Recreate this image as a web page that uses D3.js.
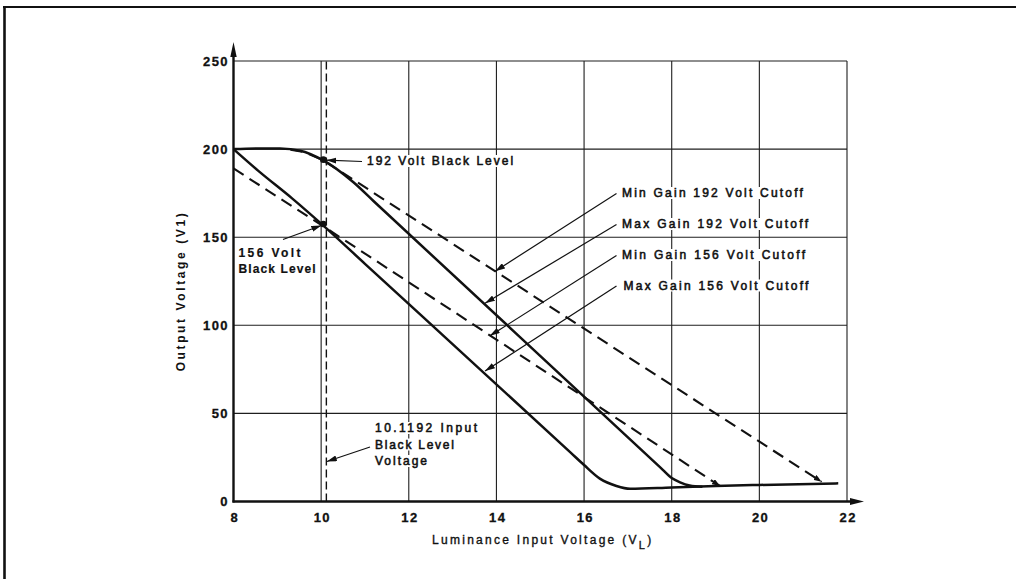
<!DOCTYPE html>
<html>
<head>
<meta charset="utf-8">
<script src="https://cdn.jsdelivr.net/npm/d3@7"></script>
<style>
  html, body { margin: 0; padding: 0; background: #fff; }
  svg { display: block; }
  text { font-family: "Liberation Sans", Arial, Helvetica, sans-serif; fill: #111; }
</style>
</head>
<body>
<svg id="chart" width="1016" height="579"></svg>
<script>
// ---- data (x: luminance input voltage V_L, y: output voltage V1) ----
const xTicks = [8, 10, 12, 14, 16, 18, 20, 22];
const yTicks = [0, 50, 100, 150, 200, 250];

// Max Gain 156 Volt Cutoff (solid), with the shared low-level tail
const maxGain156 = [
  [8, 200], [8.56, 187.8], [9.33, 172.2], [10.0, 157.7], [11.0, 134.9],
  [15.7, 27.6], [16.0, 20.7], [16.36, 13.0], [16.74, 8.8], [17.05, 7.2],
  [18.0, 8.0], [19.0, 8.8], [20.0, 9.4], [21.8, 10.3]
];
// Max Gain 192 Volt Cutoff (solid)
const maxGain192 = [
  [8, 200], [8.6, 200.4], [9.06, 200.3], [9.52, 199.1], [10.05, 193.6],
  [10.73, 181.3], [11.2, 170.4], [17.75, 19.1], [18.0, 13.3], [18.19, 10.9],
  [18.41, 9.1], [18.7, 8.4]
];
// Min Gain 156 Volt Cutoff (dashed)
const minGain156 = [[8, 189], [10.0, 157], [19.1, 8.8]];
// Min Gain 192 Volt Cutoff (dashed)
const minGain192 = [[9.3, 199.6], [9.6, 198.4], [10.05, 193.6], [21.42, 11.2]];

const blackLevelInput = 10.1192;
const blackLevels = [[10.05, 194], [10.05, 157.5]];

const cutoffLabels = [
  "Min Gain 192 Volt Cutoff",
  "Max Gain 192 Volt Cutoff",
  "Min Gain 156 Volt Cutoff",
  "Max Gain 156 Volt Cutoff"
];
const cutoffTips = [[13.97, 130.7], [13.74, 112.5], [13.85, 94], [13.74, 74]];

// ---- layout ----
const svg = d3.select("#chart");
const x = d3.scaleLinear().domain([8, 22]).range([233.5, 847]);
const y = d3.scaleLinear().domain([0, 250]).range([501.5, 61]);

const defs = svg.append("defs");
defs.append("marker")
  .attr("id", "arrow").attr("markerUnits", "userSpaceOnUse")
  .attr("viewBox", "0 0 10 6").attr("refX", 10).attr("refY", 3)
  .attr("markerWidth", 10).attr("markerHeight", 6).attr("orient", "auto")
  .append("path").attr("d", "M0,0 L10,3 L0,6 Z").attr("fill", "#111");
defs.append("marker")
  .attr("id", "tick-end").attr("markerUnits", "userSpaceOnUse")
  .attr("viewBox", "0 0 8 6").attr("refX", 8).attr("refY", 3)
  .attr("markerWidth", 8).attr("markerHeight", 6).attr("orient", "auto")
  .append("path").attr("d", "M0,0 L8,3 L0,6 Z").attr("fill", "#111");

// page frame
svg.append("path").attr("d", "M3,7 H1016").attr("stroke", "#111").attr("stroke-width", 2.2).attr("fill", "none");
svg.append("path").attr("d", "M4.5,6 V579").attr("stroke", "#111").attr("stroke-width", 2.6).attr("fill", "none");

// grid
const grid = svg.append("g").attr("stroke", "#1e1e1e").attr("stroke-width", 1.1).attr("fill", "none");
grid.selectAll("line.v").data(xTicks.filter(d => d > 8)).join("line")
  .attr("x1", d => x(d)).attr("x2", d => x(d))
  .attr("y1", y(0)).attr("y2", y(250));
grid.selectAll("line.h").data(yTicks.filter(d => d > 0)).join("line")
  .attr("x1", x(8)).attr("x2", x(22))
  .attr("y1", d => y(d)).attr("y2", d => y(d));

// input black level marker line
svg.append("line")
  .attr("x1", x(blackLevelInput)).attr("x2", x(blackLevelInput))
  .attr("y1", y(0)).attr("y2", y(250))
  .attr("stroke", "#111").attr("stroke-width", 1.4).attr("stroke-dasharray", "8,4");

// label backgrounds layer (interrupts grid under text)
const bgLayer = svg.append("g");

// axes lines with arrowheads
svg.append("path").attr("d", `M${x(8)},${y(0) + 1} V50`).attr("stroke", "#111").attr("stroke-width", 2.4).attr("fill", "none");
svg.append("path").attr("d", `M${x(8)},42 L${x(8) - 3.2},57 L${x(8) + 3.2},57 Z`).attr("fill", "#111");
svg.append("path").attr("d", `M${x(8) - 1},${y(0)} H853`).attr("stroke", "#111").attr("stroke-width", 2.4).attr("fill", "none");
svg.append("path").attr("d", `M864,${y(0)} L850,${y(0) - 3.4} L850,${y(0) + 3.4} Z`).attr("fill", "#111");

// tick labels via axes
const yAxis = svg.append("g").attr("transform", `translate(${x(8)},0)`)
  .call(d3.axisLeft(y).tickValues(yTicks).tickSize(0).tickPadding(6).tickFormat(d3.format("d")));
const xAxis = svg.append("g").attr("transform", `translate(0,${y(0)})`)
  .call(d3.axisBottom(x).tickValues(xTicks).tickSize(0).tickPadding(11).tickFormat(d3.format("d")));
[yAxis, xAxis].forEach(a => {
  a.select(".domain").remove();
  a.selectAll("text").attr("font-family", "Liberation Sans, Arial, sans-serif")
    .attr("font-size", 13).attr("font-weight", "bold").attr("fill", "#111")
    .attr("stroke", "#111").attr("stroke-width", 0.3);
});
yAxis.selectAll("text").attr("letter-spacing", 1.4).attr("dx", 1.4);
xAxis.selectAll("text").attr("letter-spacing", 1.4).attr("dx", 0.7);

// curves
const line = d3.line().x(d => x(d[0])).y(d => y(d[1]));
const smooth = d3.line().x(d => x(d[0])).y(d => y(d[1])).curve(d3.curveMonotoneX);
const curves = svg.append("g").attr("fill", "none").attr("stroke", "#111").attr("stroke-linejoin", "round");
curves.append("path").attr("d", smooth(maxGain156)).attr("stroke-width", 2.5);
curves.append("path").attr("d", smooth(maxGain192)).attr("stroke-width", 2.5);
curves.append("path").attr("d", line(minGain156)).attr("stroke-width", 2.1)
  .attr("stroke-dasharray", "12,7").attr("marker-end", "url(#tick-end)");
curves.append("path").attr("d", line(minGain192)).attr("stroke-width", 2.1)
  .attr("stroke-dasharray", "12,7").attr("marker-end", "url(#tick-end)");

// black level points
svg.selectAll("circle.bl").data(blackLevels).join("circle")
  .attr("cx", d => x(d[0])).attr("cy", d => y(d[1])).attr("r", 3.3).attr("fill", "#111");

// text helpers: spread letters so a line spans a given width
function fit(sel, w) {
  sel.each(function () {
    const t = d3.select(this).attr("letter-spacing", 0);
    const n = this.getNumberOfChars();
    const len = this.getComputedTextLength();
    t.attr("letter-spacing", ((w - len) / Math.max(1, n - 1)).toFixed(2));
  });
}
function backdrop(sel, pad) {
  sel.each(function () {
    const b = this.getBBox();
    bgLayer.append("rect").attr("x", b.x - pad).attr("y", b.y + 1)
      .attr("width", b.width + 2 * pad).attr("height", b.height - 2).attr("fill", "#fff");
  });
}
const ann = svg.append("g")
  .attr("font-size", 12).attr("stroke", "#111").attr("stroke-width", 0.55);

function label(str, tx, ty, w, bold) {
  const t = ann.append("text").attr("x", tx).attr("y", ty).text(str);
  if (bold) t.attr("font-weight", "bold").attr("stroke-width", 0.2);
  fit(t, w);
  backdrop(t, 3);
  return t;
}

// cutoff annotations
const labelRows = [197, 228, 259, 289.5];
const labelWidths = [181, 186, 183, 185];
cutoffLabels.forEach((s, i) => {
  label(s, i === 3 ? 623.5 : 622, labelRows[i], labelWidths[i]);
});
svg.append("g").selectAll("line").data(cutoffTips).join("line")
  .attr("x1", 616.5).attr("y1", (d, i) => labelRows[i] - 3.5)
  .attr("x2", d => x(d[0])).attr("y2", d => y(d[1]))
  .attr("stroke", "#111").attr("stroke-width", 1.2).attr("marker-end", "url(#arrow)");

// black level annotations
label("192 Volt Black Level", 367, 165, 146);
svg.append("line").attr("x1", 362).attr("y1", 161.5).attr("x2", x(blackLevels[0][0]) + 3).attr("y2", y(blackLevels[0][1]) + 0.5)
  .attr("stroke", "#111").attr("stroke-width", 1.2).attr("marker-end", "url(#arrow)");

label("156 Volt", 238.5, 256.5, 62, true);
label("Black Level", 238.5, 273, 77, true);
svg.append("line").attr("x1", 283).attr("y1", 239.5).attr("x2", x(blackLevels[1][0]) - 2).attr("y2", y(blackLevels[1][1]) + 1.5)
  .attr("stroke", "#111").attr("stroke-width", 1.2).attr("marker-end", "url(#arrow)");

label("10.1192 Input", 375, 432, 102);
label("Black Level", 375, 448.5, 79);
label("Voltage", 375, 465, 52);
svg.append("line").attr("x1", 370).attr("y1", 447).attr("x2", x(blackLevelInput) + 0.5).attr("y2", 461.5)
  .attr("stroke", "#111").attr("stroke-width", 1.2).attr("marker-end", "url(#arrow)");

// axis titles
const yTitle = svg.append("text")
  .attr("transform", "translate(184.5,291) rotate(-90)")
  .attr("text-anchor", "middle").attr("font-size", 12).attr("font-weight", "bold")
  .text("Output Voltage (V1)");
fit(yTitle, 158);

const xTitle = svg.append("text").attr("x", 432).attr("y", 544)
  .attr("font-size", 12).attr("stroke", "#111").attr("stroke-width", 0.35);
xTitle.append("tspan").text("Luminance Input Voltage (V");
xTitle.append("tspan").attr("dy", 5).attr("font-size", 11).text("L");
xTitle.append("tspan").attr("dy", -5).text(")");
fit(xTitle, 219);
</script>
</body>
</html>
